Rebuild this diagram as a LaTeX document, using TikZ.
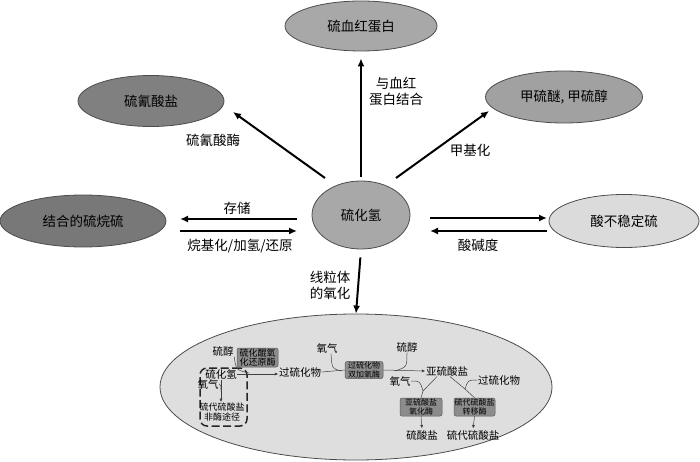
\documentclass[tikz,border=0pt]{standalone}
\usepackage{fontspec}
\setmainfont{Noto Sans CJK SC}
\usetikzlibrary{shapes.geometric,arrows.meta}
\begin{document}
\begin{tikzpicture}[x=1pt,y=-1pt,
  ell/.style={ellipse,draw=black!70,line width=0.8pt,inner sep=0pt,font=\fontsize{13.5}{15}\selectfont},
  lbl/.style={font=\fontsize{13.5}{16}\selectfont,align=center,inner sep=0pt},
  big/.style={-{Latex[length=8pt,width=7pt]},line width=2pt},
  sm/.style={font=\fontsize{10.5}{12}\selectfont,inner sep=0.5pt},
  enz/.style={rectangle,rounded corners=2pt,draw=black!65,fill=black!45,line width=0.5pt,inner sep=0pt,align=center,font=\fontsize{8}{8.5}\selectfont},
  thinln/.style={line width=0.5pt,draw=black!75},
  tarr/.style={thinln,-{Latex[length=3.5pt,width=3pt]}}
]
\useasboundingbox (0,0) rectangle (700,462);

% main nodes
\node[ell,fill=black!34,minimum width=152pt,minimum height=50pt] (hb) at (361,26) {硫血红蛋白};
\node[ell,fill=black!50,minimum width=146pt,minimum height=51pt] (scn) at (151,101) {硫氰酸盐};
\node[ell,fill=black!37,minimum width=157pt,minimum height=52pt] (mt) at (564,97) {甲硫醚, 甲硫醇};
\node[ell,fill=black!53,minimum width=166pt,minimum height=52pt] (bss) at (83,221) {结合的硫烷硫};
\node[ell,fill=black!34,minimum width=98pt,minimum height=68pt] (h2s) at (361,215) {硫化氢};
\node[ell,fill=black!14,minimum width=150pt,minimum height=53pt] (als) at (624,221) {酸不稳定硫};
\node[ell,fill=black!13,minimum width=392pt,minimum height=146pt] (mito) at (356,387) {};

% arrow end points
\coordinate (a1s) at (325,178); \coordinate (a1e) at (233,112);
\coordinate (a2s) at (396,178); \coordinate (a2e) at (489,111);
\coordinate (l1s) at (297,219); \coordinate (l1e) at (180,219);
\coordinate (l2s) at (180,231); \coordinate (l2e) at (297,231);
\coordinate (r1s) at (430,218); \coordinate (r1e) at (547,218);
\coordinate (r2s) at (547,231); \coordinate (r2e) at (430,231);

\draw[big,shorten <=4pt,shorten >=7pt] (h2s.north) -- (hb.south);
\draw[big] (a1s) -- (a1e);
\draw[big] (a2s) -- (a2e);
\draw[big] (l1s) -- (l1e);
\draw[big] (l2s) -- (l2e);
\draw[big] (r1s) -- (r1e);
\draw[big] (r2s) -- (r2e);
\draw[big,shorten <=8pt,shorten >=0pt] (h2s.south) -- (mito.north);

% edge labels
\node[lbl] (lhb) at (396,91) {与血红\\蛋白结合};
\node[lbl] (lscn) at (213,140) {硫氰酸酶};
\node[lbl] (lmt) at (470,150) {甲基化};
\node[lbl] (lst) at (237,208) {存储};
\node[lbl] (lalk) at (240,246) {烷基化/加氢/还原};
\node[lbl] (lph) at (478,245) {酸碱度};
\node[lbl] (lmito) at (330,285) {线粒体\\的氧化};

% inner pathway
\node[draw=black!85,dashed,dash pattern=on 8pt off 3.5pt,rounded corners=7pt,line width=1.5pt,minimum width=47pt,minimum height=58pt] (nonenz) at (223.5,397) {};
\node[sm] (thiol1) at (223,351) {硫醇};
\node[enz,minimum width=41pt,minimum height=19pt,font=\fontsize{9}{9.5}\selectfont] (qor) at (257.5,357.5) {硫化醌氧\\化还原酶};
\node[sm] (h2sin) at (221,374) {硫化氢};
\node[sm] (pers1) at (300,372) {过硫化物};
\node[sm] (o2a) at (208,384) {氧气};
\node[sm,font=\fontsize{9}{10}\selectfont,align=center] (tsa) at (222,412) {硫代硫酸盐\\非酶途径};

\draw[tarr] (h2sin.east) -- (pers1.west |- h2sin.east);
\draw[thinln] (thiol1.south east) .. controls (236,370) .. (249,373);
\draw[tarr] (h2sin.south) -- (h2sin.south |- tsa.north);
\draw[thinln] (o2a.east) .. controls (221,385) .. (221,392);

\node[enz,minimum width=38pt,minimum height=17pt] (pdo) at (364,370) {过硫化物\\双加氧酶};
\node[sm] (o2b) at (327,348) {氧气};
\draw[thinln] (pers1.east) -- (pdo.west);
\draw[thinln] ([xshift=4pt]o2b.south) .. controls (332,369) .. (342,371);

\node[sm] (sulfite) at (447,371) {亚硫酸盐};
\node[sm] (thiol2) at (407,347) {硫醇};
\draw[tarr] (pdo.east) -- (sulfite.west);
\draw[thinln] (thiol2.south) .. controls (407,367) .. (395,371);

\node[sm] (o2c) at (400,381) {氧气};
\node[enz,minimum width=42pt,minimum height=18pt] (so) at (421,407) {亚硫酸盐\\氧化酶};
\node[enz,minimum width=41pt,minimum height=18pt] (st) at (474.5,407) {硫代硫酸盐\\转移酶};
\node[sm] (pers2) at (499,380) {过硫化物};
\draw[thinln] ([xshift=-10pt]sulfite.south) -- (423,391) -- (so.north);
\draw[thinln] (o2c.east) .. controls (420,381) .. (423,391);
\draw[thinln] ([xshift=3pt]sulfite.south) -- (465,389) -- (st.north);
\draw[thinln] (pers2.west) .. controls (468,380) .. (465,389);

\node[sm] (sulfate) at (422,435) {硫酸盐};
\node[sm] (thios) at (473,435) {硫代硫酸盐};
\draw[tarr,shorten >=1pt] (so.south) -- (sulfate.north);
\draw[tarr,shorten >=1pt] (st.south) -- (thios.north);
\end{tikzpicture}
\end{document}
